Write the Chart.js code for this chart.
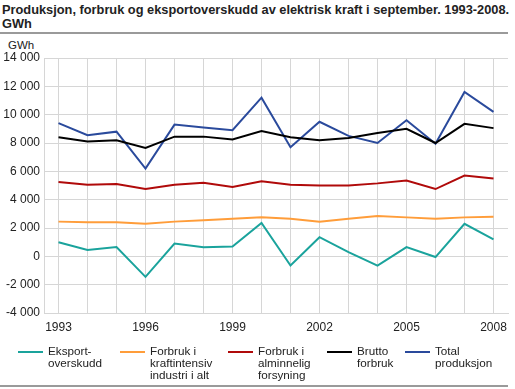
<!DOCTYPE html>
<html>
<head>
<meta charset="utf-8">
<script src="https://cdn.jsdelivr.net/npm/chart.js@4.4.1/dist/chart.umd.min.js"></script>
<style>
  body { margin: 0; background: #fff; font-family: "Liberation Sans", Arial, sans-serif; color: #222; }
  #wrap { position: relative; width: 515px; height: 389px; overflow: hidden; }
  #title { position: absolute; left: 2px; top: 3px; font-size: 12.8px; font-weight: bold; line-height: 14px; }
  .rule { position: absolute; left: 0; width: 508px; height: 2px; background: #9a9a9a; }
  #unit { position: absolute; left: 8px; top: 39px; font-size: 11.5px; }
  canvas { position: absolute; left: 0; top: 0; }
  .leg { position: absolute; top: 345px; font-size: 11.7px; line-height: 12px; color: #222; }
  .leg i { position: absolute; top: 6px; height: 2px; width: 25px; }
</style>
</head>
<body>
<div id="wrap">
  <div id="title">Produksjon, forbruk og eksportoverskudd av elektrisk kraft i september. 1993-2008.<br>GWh</div>
  <div class="rule" style="top:32px"></div>
  <div id="unit">GWh</div>
  <canvas id="chart" width="515" height="389"></canvas>
  <div id="legend"></div>
  <div class="rule" style="top:385px"></div>
</div>
<script>
// --- Data ---
const years = ['1993','1994','1995','1996','1997','1998','1999','2000','2001','2002','2003','2004','2005','2006','2007','2008'];
const eksport = [1000, 450, 650, -1450, 900, 650, 700, 2350, -650, 1350, 300, -650, 650, -50, 2300, 1200];
const kraftintensiv = [2450, 2400, 2400, 2300, 2450, 2550, 2650, 2750, 2650, 2450, 2650, 2850, 2750, 2650, 2750, 2800];
const alminnelig = [5250, 5050, 5100, 4750, 5050, 5200, 4900, 5300, 5050, 5000, 5000, 5150, 5350, 4750, 5700, 5500];
const brutto = [8400, 8100, 8200, 7650, 8450, 8450, 8250, 8850, 8400, 8200, 8350, 8700, 9000, 8000, 9350, 9050];
const total = [9400, 8550, 8800, 6200, 9300, 9100, 8900, 11200, 7700, 9500, 8500, 8000, 9600, 7950, 11600, 10200];
const yTicks = [-4000, -2000, 0, 2000, 4000, 6000, 8000, 10000, 12000, 14000];

const series = [
  { label: 'Eksport-\noverskudd', data: eksport, color: '#1aa39c', x: 18 },
  { label: 'Forbruk i\nkraftintensiv\nindustri i alt', data: kraftintensiv, color: '#ff9d3a', x: 120 },
  { label: 'Forbruk i\nalminnelig\nforsyning', data: alminnelig, color: '#b00a0a', x: 228 },
  { label: 'Brutto\nforbruk', data: brutto, color: '#000000', x: 327 },
  { label: 'Total\nproduksjon', data: total, color: '#2a4a9c', x: 405 }
];

// --- HTML legend (multi-line labels) ---
const legend = document.getElementById('legend');
series.forEach(s => {
  legend.innerHTML += `<div class="leg" style="left:${s.x}px"><i style="left:0;background:${s.color}"></i><div style="margin-left:30px">${s.label.replace(/\n/g, '<br>')}</div></div>`;
});

const fmt = v => String(v).replace(/\B(?=(\d{3})+(?!\d))/g, ' ');

new Chart(document.getElementById('chart'), {
  type: 'line',
  data: {
    labels: years,
    datasets: series.map(s => ({
      label: s.label,
      data: s.data,
      borderColor: s.color,
      borderWidth: 2,
      pointRadius: 0,
      tension: 0,
      fill: false
    }))
  },
  options: {
    responsive: false,
    animation: false,
    layout: { padding: { top: 58, right: 7, bottom: 56, left: 0 } },
    plugins: { legend: { display: false }, tooltip: { enabled: false } },
    scales: {
      x: {
        offset: true,
        grid: { color: '#d6d6d6', drawTicks: false, offset: false },
        border: { color: '#d6d6d6' },
        afterFit: s => { s.height = 20; },
        ticks: {
          autoSkip: false, maxRotation: 0, padding: 7,
          color: '#222', font: { family: 'Liberation Sans', size: 12 },
          callback: (v, i) => (i % 3 === 0 ? years[i] : '')
        }
      },
      y: {
        min: -4000, max: 14000,
        afterBuildTicks: s => { s.ticks = yTicks.map(v => ({ value: v })); },
        afterFit: s => { s.width = 44; },
        grid: { color: '#d6d6d6', drawTicks: false },
        border: { color: '#d6d6d6' },
        ticks: {
          padding: 4,
          color: '#222', font: { family: 'Liberation Sans', size: 12 },
          callback: v => fmt(v)
        }
      }
    }
  }
});
</script>
</body>
</html>
